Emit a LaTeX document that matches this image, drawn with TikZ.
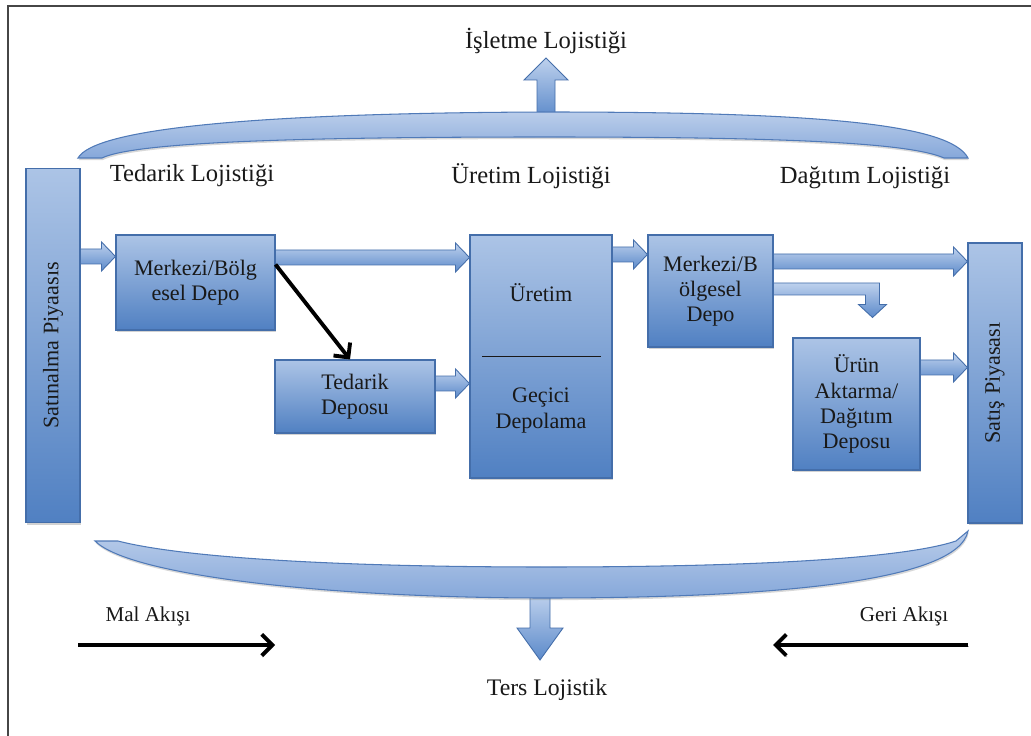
\documentclass[tikz,border=0pt]{standalone}
\usepackage{fontspec}
\usepackage{graphicx}
\setmainfont{Liberation Serif}
\usetikzlibrary{calc,shadows,arrows.meta}

\definecolor{boxtop}{RGB}{172,196,230}
\definecolor{boxbot}{RGB}{80,128,194}
\definecolor{boxline}{RGB}{68,110,170}
\definecolor{arrtop}{RGB}{190,209,237}
\definecolor{arrbot}{RGB}{92,138,202}
\definecolor{bandtop}{RGB}{186,205,234}
\definecolor{bandbot}{RGB}{134,168,218}
\definecolor{bandline}{RGB}{80,122,184}
\definecolor{framecol}{RGB}{70,70,70}
\definecolor{inktext}{RGB}{25,25,25}

\newcommand\boxfont{\fontsize{12.6}{14.3}\selectfont}
\newcommand\labfont{\fontsize{14}{16}\selectfont}

% horizontal block arrow: starts at the x of #1, tip at #2
\newcommand\harrow[2]{%
  \path[barrow] let \p1=#1, \p2=#2 in
    (\x1,\y2+0.15cm) -- (\x2-0.28cm,\y2+0.15cm) -- (\x2-0.28cm,\y2+0.29cm)
    -- (\x2,\y2) -- (\x2-0.28cm,\y2-0.29cm) -- (\x2-0.28cm,\y2-0.15cm)
    -- (\x1,\y2-0.15cm) -- cycle;}

\begin{document}
\begin{tikzpicture}[x=0.02cm,y=-0.02cm,
  box/.style={draw=boxline, line width=0.6pt, top color=boxtop, bottom color=boxbot,
    drop shadow={shadow xshift=0.6pt, shadow yshift=-0.9pt, opacity=0.35},
    align=center, font=\boxfont, text=inktext, inner sep=0pt},
  boxtext/.style={align=center, font=\boxfont, text=inktext, inner sep=0pt},
  label/.style={font=\labfont, text=inktext, inner sep=0pt},
  barrow/.style={draw=boxline, line width=0.5pt, top color=arrtop, bottom color=arrbot},
  band/.style={draw=bandline, line width=0.6pt, top color=bandtop, bottom color=bandbot,
    drop shadow={shadow xshift=0.4pt, shadow yshift=-1.2pt, opacity=0.3}},
  flow/.style={draw=black, line width=2.2pt, -{Straight Barb[length=6pt,width=12pt]},
    preaction={draw=black!30, transform canvas={xshift=0.5pt,yshift=-1pt}}}
]
\useasboundingbox (0,0) rectangle (1031,736);
\fill[white] (0,0) rectangle (1031,736);
\draw[framecol, line width=0.9pt] (8,736) -- (8,6) -- (1031,6);

% headings
\node[label] (isl) at (546,41) {İşletme Lojistiği};
\node[label] (tedl) at (192,176) {Tedarik Lojistiği};
\node[label] (urel) at (531,176) {Üretim Lojistiği};
\node[label] (dagl) at (865,178) {Dağıtım Lojistiği};
\node[label, font=\fontsize{12}{14}\selectfont] (mal) at (148,616) {Mal Akışı};
\node[label, font=\fontsize{12}{14}\selectfont] (geri) at (904,616) {Geri Akışı};
\node[label, font=\fontsize{13.5}{15}\selectfont] (ters) at (547,690) {Ters Lojistik};

% vertical arrows leaving the two bands
\coordinate (tb) at (546,118);
\coordinate (istip) at ($(isl)+(0,17)$);
\path[barrow] let \p1=(tb), \p2=(istip) in
  (\x1-0.18cm,\y1) -- (\x1-0.18cm,\y2-0.44cm) -- (\x1-0.44cm,\y2-0.44cm) -- (\x1,\y2)
  -- (\x1+0.44cm,\y2-0.44cm) -- (\x1+0.18cm,\y2-0.44cm) -- (\x1+0.18cm,\y1) -- cycle;
\coordinate (bb) at (540,594);
\coordinate (tstip) at ($(ters)+(-7,-30)$);
\path[barrow] let \p1=(bb), \p2=(tstip) in
  (\x1-0.2cm,\y1) -- (\x1-0.2cm,\y2+0.64cm) -- (\x1-0.46cm,\y2+0.64cm) -- (\x1,\y2)
  -- (\x1+0.46cm,\y2+0.64cm) -- (\x1+0.2cm,\y2+0.64cm) -- (\x1+0.2cm,\y1) -- cycle;

% upper band
\path[band] (78,158) .. controls (95,128) and (260,113) .. (546,112)
  .. controls (820,112) and (950,124) .. (968,158) -- (944,158)
  .. controls (910,143) and (790,137) .. (546,137)
  .. controls (300,137) and (135,142) .. (102,158) -- cycle;
% lower band
\path[band] (95,541) .. controls (130,576) and (330,598) .. (546,598)
  .. controls (770,598) and (958,582) .. (968,531) -- (956,541)
  .. controls (905,558) and (760,567) .. (546,567)
  .. controls (330,567) and (180,557) .. (118,541) -- cycle;

% boxes
\node[box, minimum width=1.08cm, minimum height=7.1cm] (sat) at (53,345.5)
  {\rotatebox{90}{Satınalma Piyaasıs}};
\node[box, minimum width=1.08cm, minimum height=5.6cm] (sats) at (995,383)
  {\rotatebox{90}{Satış Piyasası}};
\node[box, minimum width=3.18cm, minimum height=1.9cm] (mer) at (195.5,282.5)
  {Merkezi/Bölg\\esel Depo};
\node[box, minimum width=3.2cm, minimum height=1.46cm] (ted) at (355,396.5)
  {Tedarik\\Deposu};
\node[box, minimum width=2.84cm, minimum height=4.86cm] (ure) at (541,356.5) {};
\node[boxtext] (uret) at ($(ure.north)+(0,58)$) {Üretim};
\node[boxtext] (gec) at ($(ure.south)+(0,-68)$) {Geçici\\Depolama};
\draw[inktext, line width=0.8pt] ($(ure.west)+(13,0)$) -- ($(ure.east)+(-12,0)$);
\node[box, minimum width=2.5cm, minimum height=2.24cm] (merb) at (710.5,291)
  {Merkezi/B\\ölgesel\\Depo};
\node[box, minimum width=2.54cm, minimum height=2.64cm] (urn) at (856.5,404)
  {Ürün\\Aktarma/\\Dağıtım\\Deposu};

% block arrows between boxes
\harrow{(sat.east)}{($(mer.north west)+(0,22)$)}
\harrow{(mer.east)}{($(ure.north west)+(0,23)$)}
\harrow{(ted.east)}{($(ted.east -| ure.west)+(0,-13)$)}
\harrow{(ure.east)}{($(merb.north west)+(0,20)$)}
\harrow{(merb.east)}{($(merb.north east -| sats.west)+(0,27)$)}
\harrow{(urn.east)}{($(urn.north east -| sats.west)+(0,30)$)}
% elbow arrow from the regional depot down to the transfer depot
\path[barrow] let \p1=(merb.east), \p2=($(urn.north)+(16,-20)$) in
  (\x1,\y1+0.16cm) -- (\x2+0.14cm,\y1+0.16cm) -- (\x2+0.14cm,\y2+0.26cm)
  -- (\x2+0.28cm,\y2+0.26cm) -- (\x2,\y2) -- (\x2-0.28cm,\y2+0.26cm)
  -- (\x2-0.14cm,\y2+0.26cm) -- (\x2-0.14cm,\y1-0.08cm) -- (\x1,\y1-0.08cm) -- cycle;

% black flow arrows
\draw[flow] ($(mer.north east)+(0,30)$) -- ($(ted.north)+(-5,0)$);
\coordinate (m1) at (78,645);
\coordinate (m2) at (275,645);
\coordinate (g1) at (968,645);
\coordinate (g2) at (773,645);
\draw[flow] (m1) -- (m2);
\draw[flow] (g1) -- (g2);
\end{tikzpicture}
\end{document}
